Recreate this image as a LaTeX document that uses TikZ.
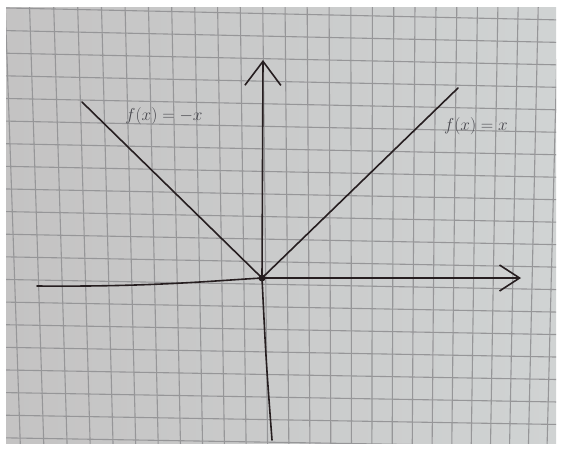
\documentclass[tikz,border=0pt]{standalone}
\usetikzlibrary{arrows.meta}
\definecolor{paperL}{RGB}{196,195,195}
\definecolor{paperR}{RGB}{208,211,211}
\definecolor{gridc}{RGB}{150,150,152}
\definecolor{ink}{RGB}{38,30,32}
\definecolor{pencil}{RGB}{72,72,78}
\begin{document}
\begin{tikzpicture}[x=1pt,y=-1pt,
  gridline/.style={draw=gridc,line width=1.1pt},
  pen/.style={draw=ink,line width=1.6pt,line cap=round,line join=round},
  lbl/.style={text=pencil,inner sep=0pt,font=\fontsize{19}{22}\selectfont}]
\useasboundingbox (0,0) rectangle (561,450);
\fill[white] (0,0) rectangle (561,450);
\shade[left color=paperL,right color=paperR] (6,7) rectangle (556,443);
\begin{scope}
\clip (6,7) rectangle (556,443);
\foreach \k in {-1,...,24}{
  \pgfmathsetmacro\xt{30+24.22*\k-0.0929*\k*\k}
  \pgfmathsetmacro\xb{43+23.43*\k-0.1*\k*\k}
  \pgfmathsetmacro\s{(\xb-\xt)/400}
  \draw[gridline] ({\xt-20*\s},0) -- ({\xt+430*\s},450);
}
\foreach \j in {-1,...,20}{
  \pgfmathsetmacro\yl{10+22.6*\j}
  \pgfmathsetmacro\yr{18+22.5*\j}
  \pgfmathsetmacro\s{(\yr-\yl)/370}
  \draw[gridline] (0,{\yl-100*\s}) -- (561,{\yl+461*\s});
}
\end{scope}
\coordinate (O) at (262,278);
\coordinate (YB) at (272,440);
\coordinate (YT) at (263,60);
\coordinate (XL) at (37,286);
\coordinate (XR) at (521,278);
\coordinate (LT) at (82,102);
\coordinate (RT) at (458,88);
\draw[pen,-{Straight Barb[length=24pt,width=36pt]}] (YB) .. controls (266,360) .. (O) -- (YT);
\draw[pen,-{Straight Barb[length=20pt,width=26pt]}] (XL) .. controls (150,287) and (210,281) .. (O) -- (XR);
\draw[pen] (LT) -- (O);
\draw[pen] (O) -- (RT);
\fill[ink] (O) circle (3.5);
\node[lbl] (l1) at (164,116) {$f(x)=-x$};
\node[lbl] (l2) at (476,126) {$f(x)=x$};
\end{tikzpicture}
\end{document}
